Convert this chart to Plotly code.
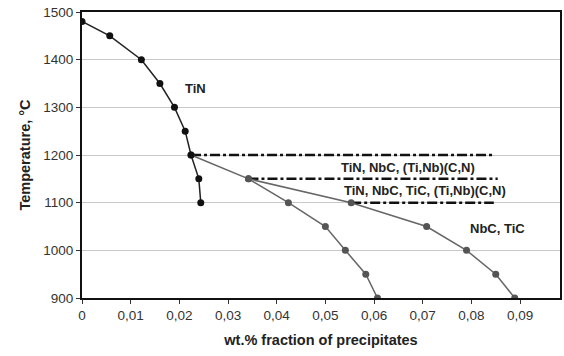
import plotly.graph_objects as go

# TiN precipitation curve
tin_x = [0.0, 0.0057, 0.0122, 0.016, 0.019, 0.0212, 0.0224, 0.024, 0.0244]
tin_t = [1480, 1450, 1400, 1350, 1300, 1250, 1200, 1150, 1100]

# first branch (from 1200 °C)
b1_x = [0.0224, 0.0342, 0.0424, 0.050, 0.0541, 0.0583, 0.0607]
b1_t = [1200, 1150, 1100, 1050, 1000, 950, 900]

# second branch (from 1150 °C)
b2_x = [0.0342, 0.0553, 0.0708, 0.079, 0.085, 0.0889]
b2_t = [1150, 1100, 1050, 1000, 950, 900]

# dash-dot boundary lines: start x, end x, temperature
bound_x0 = [0.0224, 0.0342, 0.0553]
bound_x1 = [0.0846, 0.0854, 0.0846]
bound_t = [1200, 1150, 1100]

labels = ["TiN", "TiN, NbC, (Ti,Nb)(C,N)", "TiN, NbC, TiC, (Ti,Nb)(C,N)", "NbC, TiC"]
label_x = [0.0234, 0.067, 0.0705, 0.0854]
label_t = [1340, 1173, 1126, 1045]

x_ticks = [0, 0.01, 0.02, 0.03, 0.04, 0.05, 0.06, 0.07, 0.08, 0.09]
y_ticks = [900, 1000, 1100, 1200, 1300, 1400, 1500]

fig = go.Figure()

for x0, x1, t in zip(bound_x0, bound_x1, bound_t):
    fig.add_trace(go.Scatter(x=[x0, x1], y=[t, t], mode="lines",
                             line=dict(color="#111111", width=2.5, dash="10px,3px,3px,3px"),
                             showlegend=False, hoverinfo="skip"))

fig.add_trace(go.Scatter(x=b1_x, y=b1_t, mode="lines+markers",
                         line=dict(color="#666666", width=1.5),
                         marker=dict(color="#555555", size=7), showlegend=False))
fig.add_trace(go.Scatter(x=b2_x, y=b2_t, mode="lines+markers",
                         line=dict(color="#666666", width=1.5),
                         marker=dict(color="#555555", size=7), showlegend=False))
fig.add_trace(go.Scatter(x=tin_x, y=tin_t, mode="lines+markers",
                         line=dict(color="#222222", width=1.5),
                         marker=dict(color="#111111", size=7), showlegend=False))

for txt, x, t in zip(labels, label_x, label_t):
    fig.add_annotation(x=x, y=t, text="<b>" + txt + "</b>", showarrow=False,
                       xanchor="center", yanchor="middle",
                       font=dict(family="Liberation Sans, Arial", size=13, color="#222222"))

fig.update_layout(
    width=564, height=356,
    margin=dict(l=82, r=4, t=12, b=58),
    paper_bgcolor="white", plot_bgcolor="white",
    separators=",.",
    font=dict(family="Liberation Sans, Arial", size=13.5, color="#333333"),
    xaxis=dict(range=[0, 0.0982], tickvals=x_ticks, showgrid=False, zeroline=False,
               showline=True, linecolor="#111111", linewidth=2, mirror=True,
               ticks="outside", ticklen=4, tickcolor="#333333", automargin=False,
               title=dict(text="<b>wt.% fraction of precipitates</b>", standoff=13,
                          font=dict(size=14.5, color="#222222"))),
    yaxis=dict(range=[900, 1500], tickvals=y_ticks, showgrid=True, gridcolor="#c8c8c8",
               gridwidth=1, zeroline=False,
               showline=True, linecolor="#111111", linewidth=2, mirror=True,
               ticks="outside", ticklen=4, tickcolor="#333333", automargin=False,
               title=dict(text="<b>Temperature, °C</b>", standoff=9,
                          font=dict(size=14.5, color="#222222"))),
)

fig.write_html("out.html", config={"displayModeBar": False},
               post_script="document.body.style.margin='0';document.body.style.overflow='hidden';")
